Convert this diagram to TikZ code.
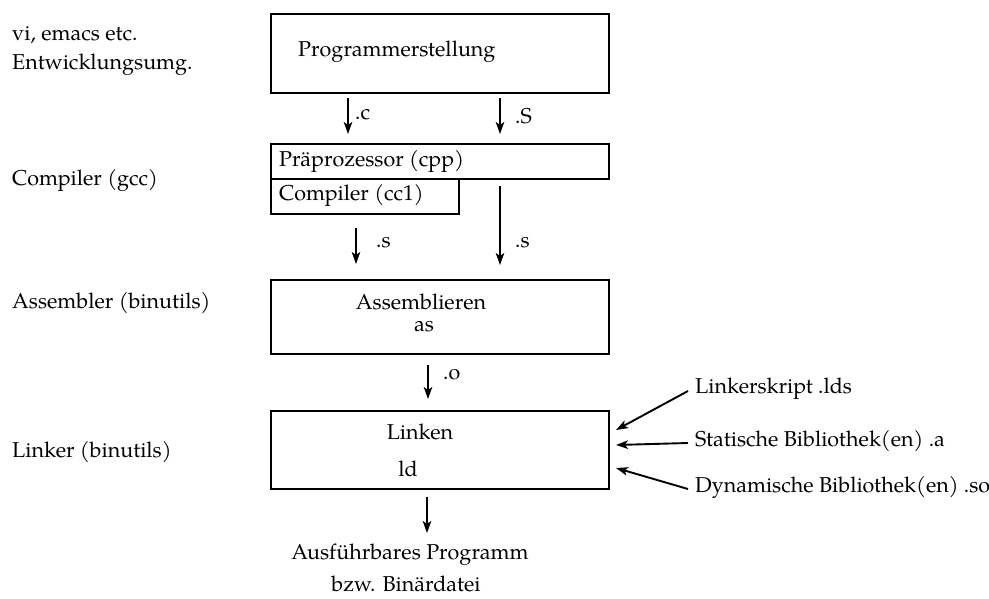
\documentclass[tikz,border=0pt]{standalone}
\usepackage{fontspec}
\setmainfont{texgyrepagella-regular.otf}
\usetikzlibrary{arrows.meta}
\newcommand{\lblfont}{\fontsize{21.5}{24}\selectfont}
\begin{document}
\begin{tikzpicture}[x=1pt,y=-1pt,
  box/.style={draw,line width=1.9pt,anchor=north west,inner sep=0pt},
  txt/.style={anchor=west,inner sep=0pt,font=\lblfont},
  ctxt/.style={anchor=center,inner sep=0pt,font=\lblfont},
  arr/.style={-{Stealth[length=12pt,width=8.5pt,inset=3pt]},line width=1.9pt}]
\useasboundingbox (0,0) rectangle (989,598);

% left column: tool names
\node[txt] (vi)   at (12,35)  {vi, emacs etc.};
\node[txt] (ide)  at (12,65)  {Entwicklungsumg.};
\node[txt] (gcc)  at (12,181) {Compiler (gcc)};
\node[txt] (asm)  at (12,303) {Assembler (binutils)};
\node[txt] (lnk)  at (12,452) {Linker (binutils)};

% stage boxes
\node[box,minimum width=338pt,minimum height=79pt] (prog) at (270,13) {};
\node[txt] (progT) at (298,52) {Programmerstellung};

\node[box,minimum width=338pt,minimum height=35pt] (cpp) at (270,143) {};
\node[txt] (cppT) at (279,162) {Präprozessor (cpp)};
\node[box,minimum width=188pt,minimum height=35pt] (cc1) at (270,178) {};
\node[txt] (cc1T) at (279,196) {Compiler (cc1)};

\node[box,minimum width=338pt,minimum height=74pt] (as) at (270,279) {};
\node[ctxt] (asT1) at (421,302) {Assemblieren};
\node[ctxt] (asT2) at (424,327) {as};

\node[box,minimum width=338pt,minimum height=78pt] (ld) at (270,410) {};
\node[ctxt] (ldT1) at (420,432) {Linken};
\node[ctxt] (ldT2) at (408,469) {ld};

% result
\node[ctxt] (out1) at (410,555) {Ausführbares Programm};
\node[ctxt] (out2) at (406,584) {bzw. Binärdatei};

% arrow end points
\coordinate (c0) at (348,98);  \coordinate (c1) at (348,134);
\coordinate (S0) at (500,98);  \coordinate (S1) at (500,134);
\coordinate (s0) at (356,228); \coordinate (s1) at (356,264);
\coordinate (t0) at (500,186); \coordinate (t1) at (500,265);
\coordinate (o0) at (428,365); \coordinate (o1) at (428,399);
\coordinate (e0) at (427,497); \coordinate (e1) at (427,533);

\draw[arr] (c0) -- (c1);
\draw[arr] (S0) -- (S1);
\draw[arr] (s0) -- (s1);
\draw[arr] (t0) -- (t1);
\draw[arr] (o0) -- (o1);
\draw[arr] (e0) -- (e1);

% file suffix labels
\node[txt] (cL) at (355,115) {.c};
\node[txt] (SL) at (515,116) {.S};
\node[txt] (sL) at (376,243) {.s};
\node[txt] (tL) at (515,243) {.s};
\node[txt] (oL) at (443,375) {.o};

% linker inputs
\node[txt] (lds) at (695,389) {Linkerskript .lds};
\node[txt] (sta) at (695,441) {Statische Bibliothek(en) .a};
\node[txt] (dyn) at (695,488) {Dynamische Bibliothek(en) .so};
\coordinate (ldsA) at (616,430);
\coordinate (staA) at (616,445);
\coordinate (dynA) at (616,468);
\draw[arr] ([xshift=-7pt,yshift=-2pt]lds.west) -- (ldsA);
\draw[arr] ([xshift=-7pt,yshift=-2pt]sta.west) -- (staA);
\draw[arr] ([xshift=-7pt,yshift=-1pt]dyn.west) -- (dynA);
\end{tikzpicture}
\end{document}
